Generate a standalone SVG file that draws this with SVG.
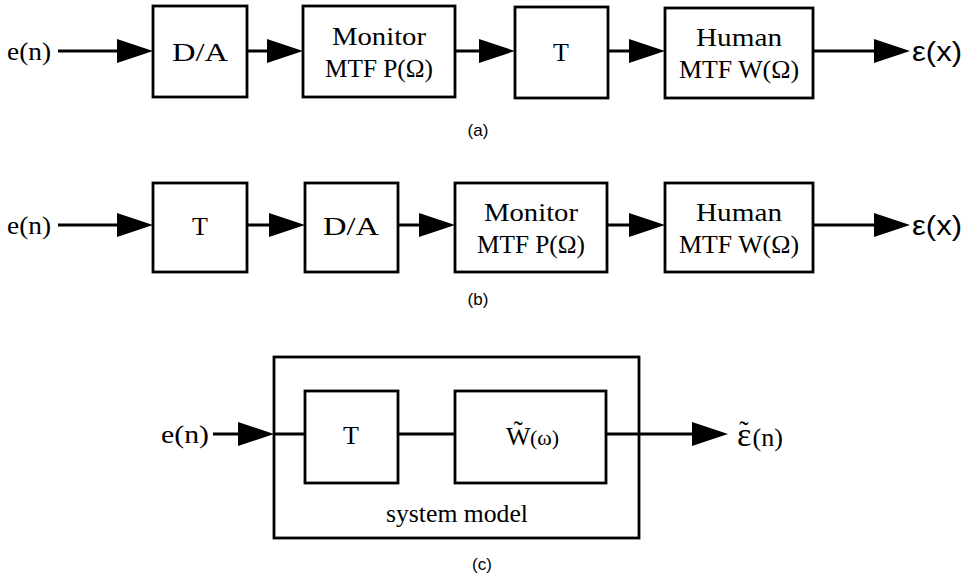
<svg xmlns="http://www.w3.org/2000/svg" width="966" height="580" viewBox="0 0 966 580">
<style>
.box{fill:#fff;stroke:#000;stroke-width:2.8}
.wire{stroke:#000;stroke-width:3;fill:none}
.t{font-family:"Liberation Serif","Times New Roman",serif;font-size:26px;fill:#000}
.s{font-family:"Liberation Sans",Arial,sans-serif;fill:#000}
.cap{font-family:"Liberation Sans",Arial,sans-serif;font-size:17px;fill:#000;text-anchor:middle}
</style>
<defs>
<marker id="ah" markerUnits="userSpaceOnUse" markerWidth="38" markerHeight="26" refX="30" refY="12" orient="auto">
<path d="M0,0 L36,12 L0,24 z" fill="#000"/>
</marker>
</defs>
<rect width="966" height="580" fill="#fff"/>

<g id="connectors">
<line class="wire" x1="58" y1="51" x2="147" y2="51" marker-end="url(#ah)"/>
<line class="wire" x1="247" y1="51" x2="297" y2="51" marker-end="url(#ah)"/>
<line class="wire" x1="455" y1="51" x2="509" y2="51" marker-end="url(#ah)"/>
<line class="wire" x1="608" y1="51" x2="659" y2="51" marker-end="url(#ah)"/>
<line class="wire" x1="813" y1="51" x2="904" y2="51" marker-end="url(#ah)"/>

<line class="wire" x1="58" y1="225" x2="147" y2="225" marker-end="url(#ah)"/>
<line class="wire" x1="247" y1="225" x2="299" y2="225" marker-end="url(#ah)"/>
<line class="wire" x1="398" y1="225" x2="449" y2="225" marker-end="url(#ah)"/>
<line class="wire" x1="607" y1="225" x2="659" y2="225" marker-end="url(#ah)"/>
<line class="wire" x1="813" y1="225" x2="904" y2="225" marker-end="url(#ah)"/>

<line class="wire" x1="213" y1="434" x2="268" y2="434" marker-end="url(#ah)"/>
<line class="wire" x1="274" y1="434" x2="305" y2="434"/>
<line class="wire" x1="398" y1="434" x2="455" y2="434"/>
<line class="wire" x1="606" y1="434" x2="722" y2="434" marker-end="url(#ah)"/>
</g>

<g id="row-a">
<text class="t" x="7" y="60" textLength="44" lengthAdjust="spacingAndGlyphs">e(n)</text>
<g id="a-da"><rect class="box" x="153" y="6" width="94" height="91"/><text class="t" x="200" y="61" text-anchor="middle" textLength="56" lengthAdjust="spacingAndGlyphs">D/A</text></g>
<g id="a-monitor"><rect class="box" x="303" y="6" width="152" height="91"/><text class="t" x="379" y="45" text-anchor="middle" textLength="94" lengthAdjust="spacingAndGlyphs">Monitor</text><text class="t" x="379" y="77" text-anchor="middle" textLength="108" lengthAdjust="spacingAndGlyphs">MTF P(Ω)</text></g>
<g id="a-t"><rect class="box" x="515" y="7" width="93" height="91"/><text class="t" x="561" y="61" text-anchor="middle">T</text></g>
<g id="a-human"><rect class="box" x="665" y="8" width="148" height="90"/><text class="t" x="739" y="46" text-anchor="middle" textLength="86" lengthAdjust="spacingAndGlyphs">Human</text><text class="t" x="739" y="78" text-anchor="middle" textLength="120" lengthAdjust="spacingAndGlyphs">MTF W(Ω)</text></g>
<text class="s" x="912" y="61" font-size="28" textLength="50" lengthAdjust="spacingAndGlyphs">ε(x)</text>
<text class="cap" x="478" y="136">(a)</text>
</g>

<g id="row-b">
<text class="t" x="7" y="234" textLength="44" lengthAdjust="spacingAndGlyphs">e(n)</text>
<g id="b-t"><rect class="box" x="153" y="183" width="94" height="89"/><text class="t" x="200" y="235" text-anchor="middle">T</text></g>
<g id="b-da"><rect class="box" x="305" y="183" width="93" height="89"/><text class="t" x="351" y="235" text-anchor="middle" textLength="56" lengthAdjust="spacingAndGlyphs">D/A</text></g>
<g id="b-monitor"><rect class="box" x="455" y="183" width="152" height="89"/><text class="t" x="531" y="221" text-anchor="middle" textLength="94" lengthAdjust="spacingAndGlyphs">Monitor</text><text class="t" x="531" y="253" text-anchor="middle" textLength="108" lengthAdjust="spacingAndGlyphs">MTF P(Ω)</text></g>
<g id="b-human"><rect class="box" x="665" y="183" width="148" height="89"/><text class="t" x="739" y="221" text-anchor="middle" textLength="86" lengthAdjust="spacingAndGlyphs">Human</text><text class="t" x="739" y="253" text-anchor="middle" textLength="120" lengthAdjust="spacingAndGlyphs">MTF W(Ω)</text></g>
<text class="s" x="912" y="235" font-size="28" textLength="50" lengthAdjust="spacingAndGlyphs">ε(x)</text>
<text class="cap" x="478" y="305">(b)</text>
</g>

<g id="row-c">
<text class="t" x="161" y="443" textLength="48" lengthAdjust="spacingAndGlyphs">e(n)</text>
<g id="c-system"><rect x="274" y="357" width="365" height="181" fill="none" stroke="#000" stroke-width="2.8"/><text class="t" x="457" y="522" text-anchor="middle" textLength="142" lengthAdjust="spacingAndGlyphs">system model</text></g>
<g id="c-t"><rect class="box" x="305" y="391" width="93" height="92"/><text class="t" x="351" y="444" text-anchor="middle">T</text></g>
<g id="c-w"><rect class="box" x="455" y="391" width="151" height="92"/><text class="t" x="506" y="445">W<tspan dx="-17" dy="-5" font-size="28">˜</tspan><tspan dx="7" dy="5" font-size="22">(ω)</tspan></text></g>
<text class="t" x="737" y="446" style="font-size:34px">ε<tspan dx="-12" dy="-6" style="font-size:28px">˜</tspan><tspan dx="4" dy="6" style="font-size:26px">(n)</tspan></text>
<text class="cap" x="482" y="570">(c)</text>
</g>
</svg>
